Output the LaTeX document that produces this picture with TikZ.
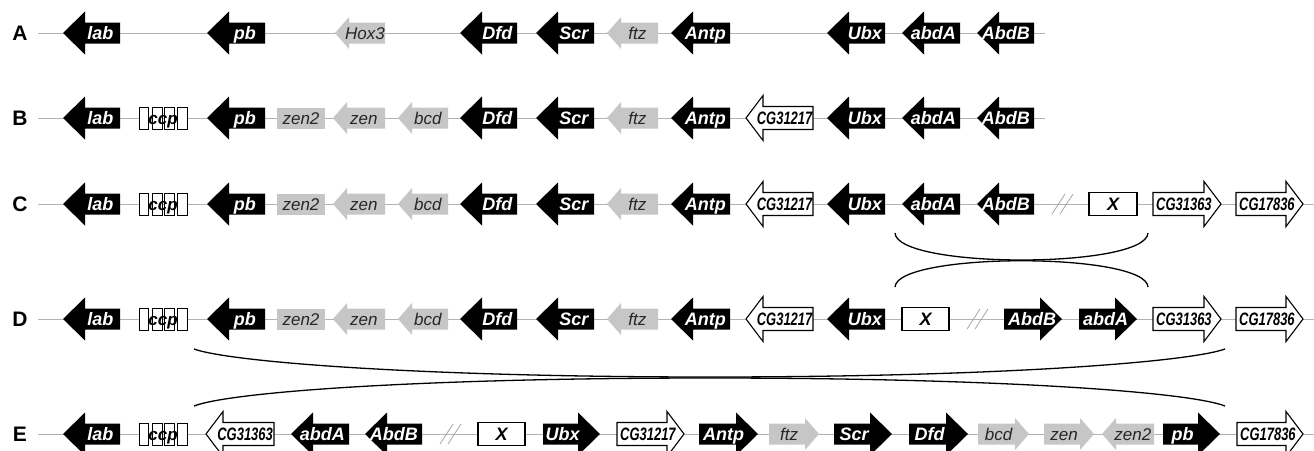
\documentclass[tikz,border=0pt]{standalone}
\usepackage{fontspec}
\usepackage{graphicx}
\setmainfont{Liberation Sans}
\newcommand\parblk{\def\gHL{22}\def\gHH{21.5}\def\gRH{10.5}\def\gLK{0.8}\def\gBO{6.4}\def\gPad{4}%
  \def\gFont{\fontsize{18}{20}\selectfont\bfseries\itshape}}
\newcommand\pargry{\def\gHL{14}\def\gHH{16}\def\gRH{10.5}\def\gLK{0.7}\def\gBO{6.1}\def\gPad{4}%
  \def\gFont{\fontsize{17}{20}\selectfont\itshape}}
\newcommand\parwht{\def\gHL{17}\def\gHH{22.5}\def\gRH{11.5}\def\gLK{0.6}\def\gBO{6.4}\def\gPad{3}%
  \def\gFont{\fontsize{18}{20}\selectfont\bfseries\itshape}}
% shapes: kind, tip/start x, end/tip x, y
\newcommand\shapeL[4]{%
  \csname par#1\endcsname
  \path[#1shape] (#2,#4) -- ({#2+\gHL},{#4-\gHH}) -- ({#2+\gHL},{#4-\gRH}) -- (#3,{#4-\gRH}) -- (#3,{#4+\gRH}) -- ({#2+\gHL},{#4+\gRH}) -- ({#2+\gHL},{#4+\gHH}) -- cycle;}
\newcommand\shapeR[4]{%
  \csname par#1\endcsname
  \path[#1shape] (#3,#4) -- ({#3-\gHL},{#4-\gHH}) -- ({#3-\gHL},{#4-\gRH}) -- (#2,{#4-\gRH}) -- (#2,{#4+\gRH}) -- ({#3-\gHL},{#4+\gRH}) -- ({#3-\gHL},{#4+\gHH}) -- cycle;}
% left-pointing gene, label centred on body: kind, name, tip x, end x, y, label
\newcommand\geneL[6]{\shapeL{#1}{#3}{#4}{#5}%
  \node[#1text] (#2) at ({(#3+\gLK*\gHL+#4)/2},{#5+\gBO}) {#6};}
% left-pointing gene, label set against the blunt end
\newcommand\geneLe[6]{\shapeL{#1}{#3}{#4}{#5}%
  \node[#1text,anchor=base east] (#2) at ({#4-\gPad},{#5+\gBO}) {#6};}
% right-pointing gene, label centred on body: kind, name, start x, tip x, y, label
\newcommand\geneR[6]{\shapeR{#1}{#3}{#4}{#5}%
  \node[#1text] (#2) at ({(#3+#4-\gLK*\gHL)/2},{#5+\gBO}) {#6};}
% right-pointing gene, label set against the blunt end
\newcommand\geneRe[6]{\shapeR{#1}{#3}{#4}{#5}%
  \node[#1text,anchor=base west] (#2) at ({#3+\gPad},{#5+\gBO}) {#6};}
% box gene
\newcommand\geneB[6]{%
  \csname par#1\endcsname
  \path[#1shape] (#3,{#5-\gRH}) rectangle (#4,{#5+\gRH});
  \node[#1text] (#2) at ({(#3+#4)/2},{#5+\gBO}) {#6};}
% ccp cluster: name, x, y
\newcommand\ccpcluster[3]{%
  \foreach \a/\b in {0/9,13/23,25/35,38/48}
    \path[ccpbox] ({#2+\a},{#3-11}) rectangle ({#2+\b},{#3+11});
  \node[ccptext] (#1) at ({#2+24},{#3+6.2}) {ccp};}
% break mark
\newcommand\brkmark[2]{%
  \draw[slash] ({#1},{#2+10}) -- ({#1+13},{#2-10});
  \draw[slash] ({#1+8},{#2+10}) -- ({#1+21},{#2-10});}
\newcommand\cgname[1]{\scalebox{0.72}[1]{#1}}
\begin{document}
\begin{tikzpicture}[x=1pt,y=-1pt,
  blkshape/.style={fill=black},
  gryshape/.style={fill=gray!45},
  whtshape/.style={fill=white,draw=black,line width=1.1pt},
  blktext/.style={text=white,font=\gFont,inner sep=0pt,anchor=base},
  grytext/.style={text=black!85,font=\gFont,inner sep=0pt,anchor=base},
  whttext/.style={text=black,font=\gFont,inner sep=0pt,anchor=base},
  ccpbox/.style={fill=white,draw=black,line width=0.9pt},
  ccptext/.style={text=black,font=\fontsize{17}{20}\selectfont\bfseries\itshape,inner sep=0pt,anchor=base},
  rowlbl/.style={font=\fontsize{21}{24}\selectfont\bfseries,inner sep=0pt,anchor=base},
  dna/.style={draw=gray!60,line width=0.9pt},
  slash/.style={draw=gray!70,line width=0.8pt},
  bracket/.style={draw=black,line width=1.3pt}]
\useasboundingbox (0,0) rectangle (1314,450);

% row letters
\node[rowlbl] (LA) at (20,40.5) {A};
\node[rowlbl] (LB) at (20,125.5) {B};
\node[rowlbl] (LC) at (20,211.5) {C};
\node[rowlbl] (LD) at (20,326.5) {D};
\node[rowlbl] (LE) at (20,441.5) {E};

% baselines
\coordinate (A0) at (38,33);  \coordinate (A1) at (1045,33);
\coordinate (B0) at (38,118); \coordinate (B1) at (1045,118);
\coordinate (C0) at (38,204); \coordinate (C1) at (1314,204);
\coordinate (D0) at (38,319); \coordinate (D1) at (1314,319);
\coordinate (E0) at (38,434); \coordinate (E1) at (1314,434);
\draw[dna] (A0) -- (A1);
\draw[dna] (B0) -- (B1);
\draw[dna] (C0) -- (C1);
\draw[dna] (D0) -- (D1);
\draw[dna] (E0) -- (E1);

% ---- row A
\geneL{blk}{Alab}{63}{120}{33}{lab}
\geneL{blk}{Apb}{207}{265}{33}{pb}
\geneL{gry}{AHox}{335}{385}{33}{Hox3}
\geneL{blk}{ADfd}{460}{517}{33}{Dfd}
\geneL{blk}{AScr}{536}{594}{33}{Scr}
\geneL{gry}{Aftz}{607}{658}{33}{ftz}
\geneLe{blk}{AAntp}{671}{730}{33}{Antp}
\geneL{blk}{AUbx}{827}{885}{33}{Ubx}
\geneLe{blk}{AabdA}{902}{960}{33}{abdA}
\geneLe{blk}{AAbdB}{977}{1034}{33}{AbdB}

% ---- rows B, C, D common part
\foreach \r/\y in {B/118,C/204,D/319}{
  \geneL{blk}{\r lab}{63}{120}{\y}{lab}
  \ccpcluster{\r ccp}{139}{\y}
  \geneL{blk}{\r pb}{207}{265}{\y}{pb}
  \geneB{gry}{\r zentwo}{277}{325}{\y}{zen2}
  \geneL{gry}{\r zen}{333}{385}{\y}{zen}
  \geneL{gry}{\r bcd}{398}{448}{\y}{bcd}
  \geneL{blk}{\r Dfd}{460}{517}{\y}{Dfd}
  \geneL{blk}{\r Scr}{536}{594}{\y}{Scr}
  \geneL{gry}{\r ftz}{607}{658}{\y}{ftz}
  \geneLe{blk}{\r Antp}{671}{730}{\y}{Antp}
  \geneL{wht}{\r CGa}{746}{813}{\y}{\cgname{CG31217}}
  \geneL{blk}{\r Ubx}{827}{885}{\y}{Ubx}
}
% row B end
\geneLe{blk}{BabdA}{902}{960}{118}{abdA}
\geneLe{blk}{BAbdB}{977}{1034}{118}{AbdB}
% row C end
\geneLe{blk}{CabdA}{902}{960}{204}{abdA}
\geneLe{blk}{CAbdB}{977}{1034}{204}{AbdB}
\brkmark{1052}{204}
\geneB{wht}{CX}{1089}{1137}{204}{X}
\geneRe{wht}{CCGb}{1153}{1221}{204}{\cgname{CG31363}}
\geneRe{wht}{CCGc}{1236}{1303}{204}{\cgname{CG17836}}
% row D end
\geneB{wht}{DX}{902}{949}{319}{X}
\brkmark{967}{319}
\geneRe{blk}{DAbdB}{1004}{1062}{319}{AbdB}
\geneRe{blk}{DabdA}{1079}{1137}{319}{abdA}
\geneRe{wht}{DCGb}{1153}{1221}{319}{\cgname{CG31363}}
\geneRe{wht}{DCGc}{1236}{1303}{319}{\cgname{CG17836}}

% ---- row E
\geneL{blk}{Elab}{63}{120}{434}{lab}
\ccpcluster{Eccp}{139}{434}
\geneL{wht}{ECGb}{206}{274}{434}{\cgname{CG31363}}
\geneLe{blk}{EabdA}{291}{349}{434}{abdA}
\geneLe{blk}{EAbdB}{365}{422}{434}{AbdB}
\brkmark{440}{434}
\geneB{wht}{EX}{478}{525}{434}{X}
\geneR{blk}{EUbx}{543}{600}{434}{Ubx}
\geneRe{wht}{ECGa}{617}{684}{434}{\cgname{CG31217}}
\geneRe{blk}{EAntp}{699}{758}{434}{Antp}
\geneR{gry}{Eftz}{769}{819}{434}{ftz}
\geneR{blk}{EScr}{834}{892}{434}{Scr}
\geneR{blk}{EDfd}{909}{968}{434}{Dfd}
\geneR{gry}{Ebcd}{978}{1029}{434}{bcd}
\geneR{gry}{Ezen}{1044}{1094}{434}{zen}
\geneL{gry}{Ezentwo}{1102}{1154}{434}{zen2}
\geneR{blk}{Epb}{1163}{1220}{434}{pb}
\geneRe{wht}{ECGc}{1237}{1303}{434}{\cgname{CG17836}}

% ---- inversion brackets C-D
\coordinate (cdUL) at (895,233); \coordinate (cdUR) at (1148,233);
\coordinate (cdLL) at (895,287); \coordinate (cdLR) at (1148,287);
\draw[bracket] (cdUL) .. controls (897,269) and (1146,269) .. (cdUR);
\draw[bracket] (cdLL) .. controls (897,252) and (1146,252) .. (cdLR);

% ---- inversion brackets D-E
\coordinate (deUL) at (194,349); \coordinate (deUR) at (1225,349);
\coordinate (deLL) at (194,406); \coordinate (deLR) at (1225,406);
\coordinate (deM1) at (710,377); \coordinate (deM2) at (710,378);
\draw[bracket] (deUL) .. controls (230,362) and (420,377) .. (deM1) .. controls (1000,377) and (1189,362) .. (deUR);
\draw[bracket] (deLL) .. controls (230,392) and (420,378) .. (deM2) .. controls (1000,378) and (1189,392) .. (deLR);
\end{tikzpicture}
\end{document}
